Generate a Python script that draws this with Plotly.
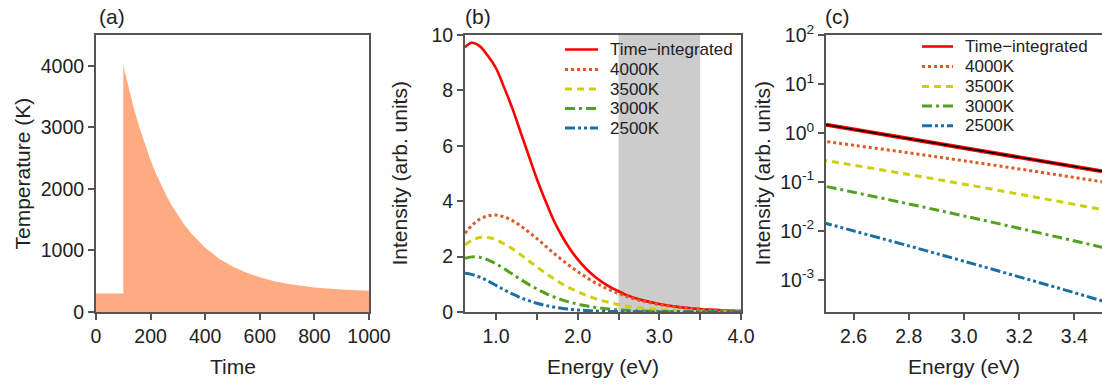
import plotly.graph_objects as go

W, H = 1102, 387

# ---------------- data ----------------
# (a) temperature history
time = [0, 100, 100, 120, 140, 160, 180, 200, 220, 240, 260, 280, 300, 325, 350,
        400, 450, 500, 550, 600, 650, 700, 800, 900, 1000]
temperature = [300, 300, 4000, 3625, 3287, 2984, 2712, 2467, 2247, 2049, 1872, 1713, 1569,
               1411, 1272, 1044, 869, 740, 640, 565, 505, 460, 400, 365, 345]

# (b) spectra
energy = [0.62, 0.7, 0.8, 0.9, 1.0, 1.1, 1.2, 1.3, 1.4, 1.5, 1.6, 1.7, 1.8, 1.9, 2.0,
          2.1, 2.2, 2.3, 2.4, 2.5, 2.6, 2.8, 3.0, 3.25, 3.5, 3.75, 4.0]
time_integrated = [9.55, 9.72, 9.6, 9.25, 8.8, 8.1, 7.35, 6.5, 5.65, 4.8, 4.05, 3.35, 2.78,
                   2.3, 1.9, 1.57, 1.3, 1.08, 0.9, 0.75, 0.61, 0.42, 0.29, 0.175, 0.105,
                   0.065, 0.038]
i_4000 = [2.84, 3.11, 3.35, 3.47, 3.50, 3.43, 3.30, 3.11, 2.89, 2.65, 2.40, 2.14, 1.90, 1.67,
          1.46, 1.26, 1.08, 0.925, 0.787, 0.666, 0.559, 0.391, 0.269, 0.166, 0.100, 0.060,
          0.035]
i_3500 = [2.42, 2.58, 2.69, 2.69, 2.61, 2.46, 2.28, 2.07, 1.85, 1.63, 1.41, 1.22, 1.03, 0.873,
          0.730, 0.607, 0.500, 0.411, 0.335, 0.271, 0.219, 0.141, 0.0895, 0.0496, 0.0271,
          0.0145, 0.0077]
i_3000 = [1.94, 1.99, 1.98, 1.88, 1.74, 1.56, 1.37, 1.18, 0.997, 0.832, 0.685, 0.557, 0.449,
          0.359, 0.284, 0.223, 0.174, 0.1355, 0.1045, 0.0802, 0.0613, 0.0353, 0.0201,
          0.00968, 0.0046, 0.00215, 0.00099]
i_2500 = [1.40, 1.36, 1.26, 1.12, 0.960, 0.799, 0.651, 0.518, 0.408, 0.315, 0.240, 0.181,
          0.135, 0.0998, 0.0732, 0.0533, 0.0385, 0.0276, 0.0198, 0.0141, 0.00993, 0.0049,
          0.00238, 0.00095, 0.00037, 0.00014, 0.000054]

# (c) time-integrated on log scale
energy_c = [2.5, 2.75, 3.0, 3.25, 3.5]
time_integrated_c = [1.47, 0.85, 0.49, 0.283, 0.164]

band = [2.5, 3.5]

names = ["Time\u2212integrated", "4000K", "3500K", "3000K", "2500K"]
temp_series = [i_4000, i_3500, i_3000, i_2500]

log_tickvals = [1e-3, 1e-2, 1e-1, 1, 10, 100]
log_ticktext = ["10<sup>-3</sup>", "10<sup>-2</sup>", "10<sup>-1</sup>",
                "10<sup>0</sup>", "10<sup>1</sup>", "10<sup>2</sup>"]

colors = ["#FF0000", "#DD5A26", "#CFCF08", "#55A01C", "#1C6EA6"]
dashes = ["solid", "dot", "7px,5px", "10px,4px,3px,4px", "10px,3px,3px,3px,3px,3px"]
widths = [2.6, 3, 3, 3, 3]

# ---------------- helpers (layout only) ----------------
def px(x):
    return x / W

def py(y):
    return 1 - y / H

FONT = "Liberation Sans, Arial, sans-serif"
TXT = "#222222"

fig = go.Figure()

# (a)
fig.add_trace(go.Scatter(x=time, y=temperature, mode="lines", fill="tozeroy",
                         line=dict(width=0, color="#FFAB82"), fillcolor="#FFAB82",
                         xaxis="x", yaxis="y", showlegend=False))

# (b)
fig.add_trace(go.Scatter(x=energy, y=time_integrated, mode="lines", line_shape="spline",
                         line=dict(color=colors[0], width=widths[0], dash=dashes[0]),
                         xaxis="x2", yaxis="y2", showlegend=False))
for k, ser in enumerate(temp_series, start=1):
    fig.add_trace(go.Scatter(x=energy, y=ser, mode="lines", line_shape="spline",
                             line=dict(color=colors[k], width=widths[k], dash=dashes[k]),
                             xaxis="x2", yaxis="y2", showlegend=False))

# (c)
fig.add_trace(go.Scatter(x=energy_c, y=time_integrated_c, mode="lines",
                         line=dict(color=colors[0], width=4),
                         xaxis="x3", yaxis="y3", showlegend=False))
fig.add_trace(go.Scatter(x=energy_c, y=time_integrated_c, mode="lines",
                         line=dict(color="#000000", width=1.6),
                         xaxis="x3", yaxis="y3", showlegend=False))
for k, ser in enumerate(temp_series, start=1):
    fig.add_trace(go.Scatter(x=energy, y=ser, mode="lines", line_shape="spline",
                             line=dict(color=colors[k], width=widths[k], dash=dashes[k]),
                             xaxis="x3", yaxis="y3", showlegend=False))

ax = dict(showline=True, linecolor="#555555", linewidth=2, mirror=True,
          ticks="outside", ticklen=6, tickwidth=1.5, tickcolor="#555555",
          showgrid=False, zeroline=False, automargin=False,
          tickfont=dict(family=FONT, size=19.5, color=TXT))

ydom = [py(312), py(35)]

fig.update_layout(
    width=W, height=H, autosize=False,
    margin=dict(l=0, r=0, t=0, b=0, pad=0, autoexpand=False),
    paper_bgcolor="white", plot_bgcolor="white",
    showlegend=False,
    xaxis=dict(ax, domain=[px(96), px(369)], range=[0, 1000],
               tickvals=[0, 200, 400, 600, 800, 1000], anchor="y"),
    yaxis=dict(ax, domain=ydom, range=[0, 4500],
               tickvals=[0, 1000, 2000, 3000, 4000], anchor="x"),
    xaxis2=dict(ax, domain=[px(465), px(741)], range=[0.62, 4.0],
                tickvals=[1.0, 1.5, 2.0, 2.5, 3.0, 3.5, 4.0],
                ticktext=["1.0", "", "2.0", "", "3.0", "", "4.0"], anchor="y2"),
    yaxis2=dict(ax, domain=ydom, range=[0, 10],
                tickvals=[0, 2, 4, 6, 8, 10], anchor="x2"),
    xaxis3=dict(ax, domain=[px(826), 1.0], range=[2.5, 3.5],
                tickvals=[2.6, 2.8, 3.0, 3.2, 3.4],
                ticktext=["2.6", "2.8", "3.0", "3.2", "3.4"], anchor="y3"),
    yaxis3=dict(ax, domain=ydom, type="log", range=[-3.66, 2], mirror=False,
                tickvals=log_tickvals, ticktext=log_ticktext, anchor="x3"),
)

# gray band in (b)
fig.add_shape(type="rect", xref="x2", yref="y2 domain", x0=band[0], x1=band[1], y0=0, y1=1,
              fillcolor="#CCCCCC", line=dict(width=0), layer="below")

annotations = []
# panel labels
for lab, x in [("(a)", 97), ("(b)", 463), ("(c)", 823)]:
    annotations.append(dict(text=lab, x=px(x), y=py(16), xref="paper", yref="paper",
                            xanchor="left", yanchor="middle", showarrow=False,
                            font=dict(family=FONT, size=21, color=TXT)))
# axis titles
tf = dict(family=FONT, size=21, color=TXT)
for txt, x, y, ang in [("Temperature (K)", 22, 173.5, -90),
                       ("Time", 232.5, 366, 0),
                       ("Intensity (arb. units)", 399, 173.5, -90),
                       ("Energy (eV)", 603, 366, 0),
                       ("Intensity (arb. units)", 762, 173.5, -90),
                       ("Energy (eV)", 964, 366, 0)]:
    annotations.append(dict(text=txt, x=px(x), y=py(y), xref="paper", yref="paper",
                            xanchor="center", yanchor="middle", showarrow=False,
                            textangle=ang, font=tf))

# manual legends for (b) and (c)
for (x0, x1, xt, rows) in [(565, 598, 608, [49.5, 69.5, 89, 108.5, 128]),
                           (922, 953, 963, [46.5, 66.5, 86.5, 106, 125.7])]:
    for k, name in enumerate(names):
        yy = rows[k]
        fig.add_shape(type="line", xref="paper", yref="paper",
                      x0=px(x0), x1=px(x1), y0=py(yy), y1=py(yy),
                      line=dict(color=colors[k], width=widths[k], dash=dashes[k]))
        annotations.append(dict(text=name, x=px(xt), y=py(yy), xref="paper", yref="paper",
                                xanchor="left", yanchor="middle", showarrow=False,
                                font=dict(family=FONT, size=17, color=TXT)))

fig.update_layout(annotations=annotations)

fig.write_html("out.html")
